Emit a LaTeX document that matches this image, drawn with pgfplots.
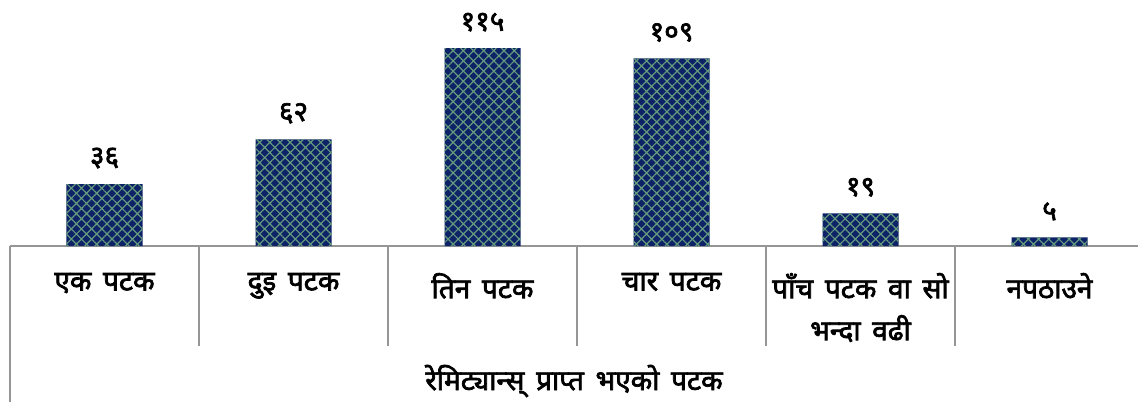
\documentclass[border=0pt]{standalone}
\usepackage{fontspec}
\usepackage{pgfplots}
\pgfplotsset{compat=1.18}
\usetikzlibrary{patterns.meta}
\newfontfamily\deva[Script=Devanagari, AutoFakeBold=2.5, WordSpace=1.6]{Noto Sans}
\definecolor{barnavy}{RGB}{14,34,104}
\definecolor{hatchgreen}{RGB}{100,155,125}
\definecolor{sepgray}{RGB}{150,150,150}
\begin{document}
\begin{tikzpicture}
\begin{axis}[
    scale only axis,
    width=567pt, height=123pt,
    xmin=-0.5, xmax=5.5,
    ymin=0, ymax=143,
    axis y line=none,
    axis x line*=bottom,
    x axis line style={-, sepgray, line width=1pt},
    xtick={0,...,5},
    xticklabels={एक पटक, दुइ पटक, तिन पटक, चार पटक, {पाँच पटक वा सो\\भन्दा वढी}, नपठाउने},
    major tick length=0pt,
    xticklabel style={font=\deva\bfseries\fontsize{14}{21}\selectfont, align=center, anchor=north, yshift=-10pt},
    xlabel={रेमिट्यान्स् प्राप्त भएको पटक},
    xlabel style={font=\deva\bfseries\fontsize{14}{21}\selectfont, at={(axis description cs:0.5,0)}, anchor=center, yshift=-67.5pt, xshift=-1.5pt},
    clip=false,
    ybar, bar width=38pt,
    point meta=explicit symbolic,
    nodes near coords={\pgfplotspointmeta},
    every node near coord/.append style={font=\deva\bfseries\fontsize{14}{21}\selectfont, anchor=center, yshift=13pt},
]
\addplot[draw=none, fill=barnavy,
    postaction={pattern={Hatch[angle=45, distance=3.6pt, line width=0.6pt]}, pattern color=hatchgreen}]
  coordinates {(0,36)[३६] (1,62)[६२] (2,115)[११५] (3,109)[१०९] (4,19)[१९] (5,5)[५]};
\draw[sepgray, line width=1pt] (axis cs:-0.5,0) -- ([yshift=-78pt]axis cs:-0.5,0);
\draw[sepgray, line width=1pt] (axis cs:0.5,0) -- ([yshift=-50pt]axis cs:0.5,0);
\draw[sepgray, line width=1pt] (axis cs:1.5,0) -- ([yshift=-50pt]axis cs:1.5,0);
\draw[sepgray, line width=1pt] (axis cs:2.5,0) -- ([yshift=-50pt]axis cs:2.5,0);
\draw[sepgray, line width=1pt] (axis cs:3.5,0) -- ([yshift=-50pt]axis cs:3.5,0);
\draw[sepgray, line width=1pt] (axis cs:4.5,0) -- ([yshift=-50pt]axis cs:4.5,0);
\end{axis}
\pgfresetboundingbox
\path[use as bounding box] (-5pt,-78pt) rectangle (564pt,123pt);
\end{tikzpicture}
\end{document}
